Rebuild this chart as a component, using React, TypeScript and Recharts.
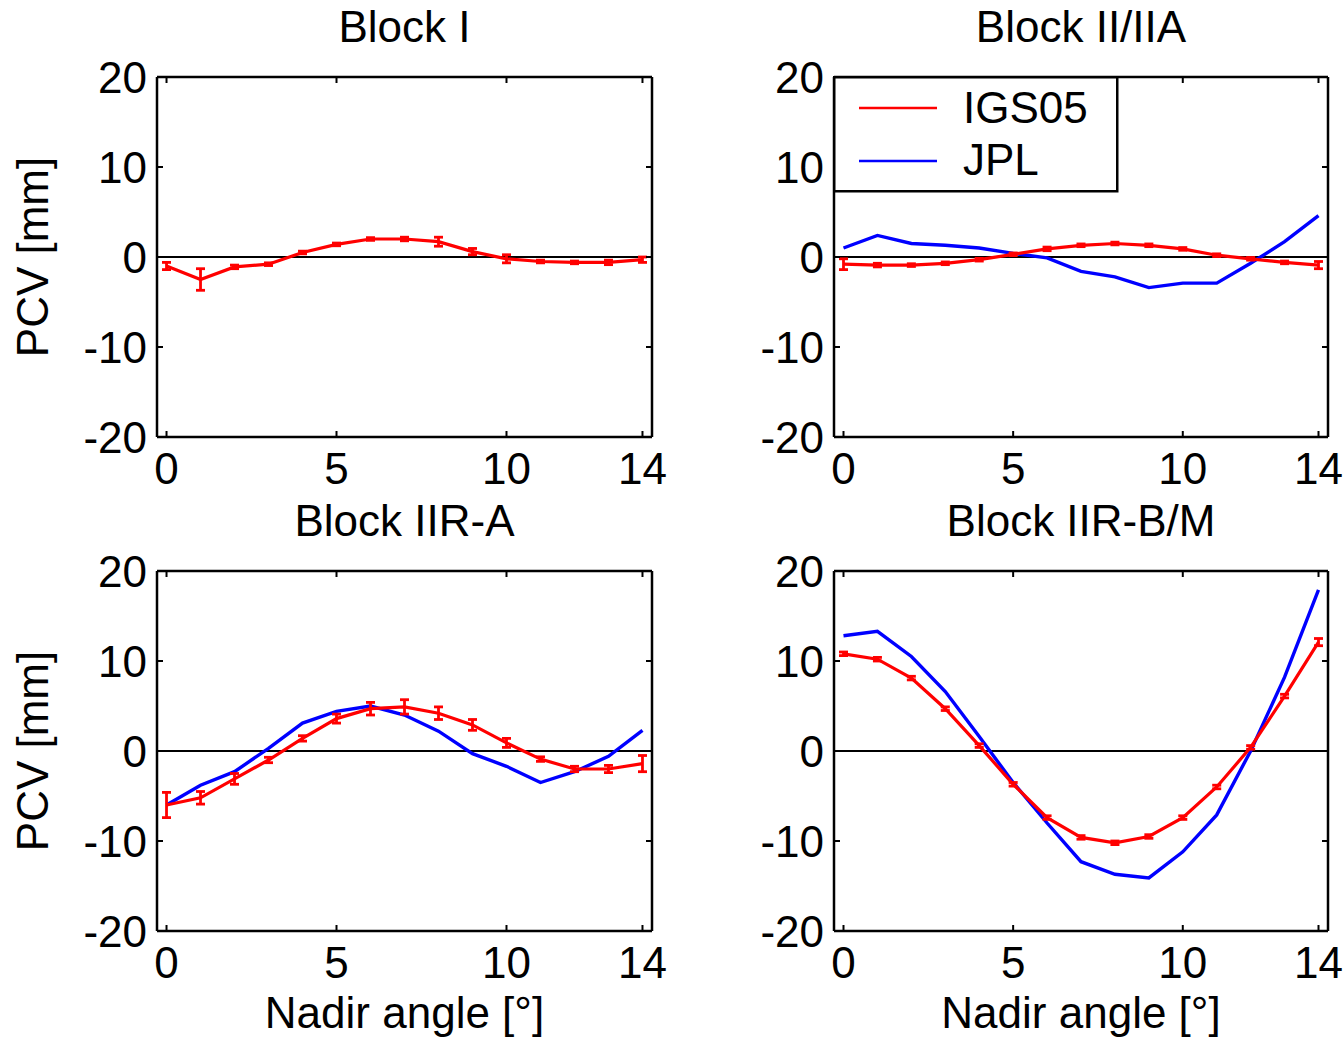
import React from 'react';
import { LineChart, Line, XAxis, YAxis, ReferenceLine, ErrorBar, Legend } from 'recharts';

// nadir angle grid (deg)
const nadirAngles = [0, 1, 2, 3, 4, 5, 6, 7, 8, 9, 10, 11, 12, 13, 14];
const xTicks = [0, 5, 10, 14];
const yTicks = [-20, -10, 0, 10, 20];
const seriesNames = ['IGS05', 'JPL'];
const panelTitles = ['Block I', 'Block II/IIA', 'Block IIR-A', 'Block IIR-B/M'];

// PCV values [mm]
const blockIIgs = [-1.0, -2.5, -1.1, -0.8, 0.5, 1.4, 2.0, 2.0, 1.7, 0.6, -0.2, -0.5, -0.6, -0.6, -0.3];
const blockIErr = [0.4, 1.2, 0.2, 0.15, 0.15, 0.15, 0.15, 0.2, 0.5, 0.35, 0.45, 0.15, 0.15, 0.25, 0.3];

const blockIIIgs = [-0.8, -0.9, -0.9, -0.7, -0.3, 0.3, 0.9, 1.3, 1.5, 1.3, 0.9, 0.2, -0.2, -0.6, -0.9];
const blockIIErr = [0.6, 0.2, 0.15, 0.15, 0.15, 0.15, 0.2, 0.15, 0.15, 0.15, 0.15, 0.15, 0.15, 0.15, 0.4];
const blockIIJpl = [1.0, 2.4, 1.5, 1.3, 1.0, 0.4, -0.1, -1.6, -2.2, -3.4, -2.9, -2.9, -0.7, 1.7, 4.6];

const blockIIRAIgs = [-6.0, -5.2, -3.1, -1.0, 1.4, 3.6, 4.7, 4.9, 4.2, 2.9, 0.9, -0.9, -2.0, -2.0, -1.4];
const blockIIRAErr = [1.4, 0.7, 0.6, 0.3, 0.3, 0.5, 0.7, 0.8, 0.7, 0.6, 0.5, 0.25, 0.3, 0.4, 0.9];
const blockIIRAJpl = [-6.0, -3.8, -2.3, 0.3, 3.1, 4.4, 5.0, 4.0, 2.2, -0.3, -1.7, -3.5, -2.3, -0.6, 2.3];

const blockIIRBIgs = [10.8, 10.2, 8.1, 4.7, 0.6, -3.7, -7.4, -9.6, -10.2, -9.5, -7.4, -4.0, 0.4, 6.1, 12.1];
const blockIIRBErr = [0.2, 0.2, 0.2, 0.2, 0.2, 0.2, 0.2, 0.2, 0.2, 0.2, 0.2, 0.2, 0.2, 0.2, 0.4];
const blockIIRBJpl = [12.8, 13.3, 10.5, 6.6, 1.6, -3.5, -8.0, -12.3, -13.7, -14.1, -11.2, -7.1, 0.0, 8.2, 17.9];

const FONT = '"Liberation Sans", Arial, Helvetica, sans-serif';
const FS = 44;
const RED = '#ff0000';
const BLUE = '#0000ff';

const XTickBottom = (props: any) => {
  const { x, y, payload } = props;
  return (
    <g>
      <line x1={x} y1={y} x2={x} y2={y - 6} stroke="#000" strokeWidth={2} />
      <text x={x} y={y + 47} textAnchor="middle" fontFamily={FONT} fontSize={FS} fill="#000">
        {payload.value}
      </text>
    </g>
  );
};

const XTickTop = (props: any) => {
  const { x, y } = props;
  return <line x1={x} y1={y} x2={x} y2={y + 6} stroke="#000" strokeWidth={2} />;
};

const YTickLeft = (props: any) => {
  const { x, y, payload } = props;
  return (
    <g>
      <line x1={x} y1={y} x2={x + 6} y2={y} stroke="#000" strokeWidth={2} />
      <text x={x - 10} y={y + 16} textAnchor="end" fontFamily={FONT} fontSize={FS} fill="#000">
        {payload.value}
      </text>
    </g>
  );
};

const YTickRight = (props: any) => {
  const { x, y } = props;
  return <line x1={x} y1={y} x2={x - 6} y2={y} stroke="#000" strokeWidth={2} />;
};

const LegendBox = (props: any) => {
  const payload = props.payload || [];
  const items = seriesNames
    .map((n) => payload.find((p: any) => p.value === n))
    .filter(Boolean);
  return (
    <svg width={286} height={117} style={{ display: 'block' }}>
      <rect x={1.25} y={1.25} width={283} height={114} fill="#fff" stroke="#000" strokeWidth={2.5} />
      {items.map((it: any, i: number) => (
        <g key={it.value}>
          <line x1={26} y1={32 + i * 53} x2={104} y2={32 + i * 53} stroke={it.color} strokeWidth={2.5} />
          <text x={130} y={47 + i * 52} fontFamily={FONT} fontSize={FS} fill="#000">
            {it.value}
          </text>
        </g>
      ))}
    </svg>
  );
};

type PanelProps = {
  title: string;
  igs: number[];
  igsErr: number[];
  jpl?: number[];
  left: number;
  top: number;
  width: number;
  height: number;
  plot: { top: number; right: number; bottom: number; left: number };
  yLabel?: boolean;
  xLabel?: boolean;
  legend?: boolean;
};

const Panel = ({ title, igs, igsErr, jpl, left, top, width, height, plot, yLabel, xLabel, legend }: PanelProps) => {
  const data = nadirAngles.map((a, i) => ({
    angle: a,
    IGS05: igs[i],
    err: igsErr[i],
    JPL: jpl ? jpl[i] : undefined,
  }));
  const xDomain = [-0.28, 14.28];
  // axes take 1px each, so the plot box lands on the given insets
  const margin = { top: plot.top - 1, right: plot.right - 1, bottom: plot.bottom - 1, left: plot.left - 1 };

  return (
    <div style={{ position: 'absolute', left, top }}>
      <LineChart width={width} height={height} data={data} margin={margin}>
        <XAxis
          dataKey="angle"
          type="number"
          domain={xDomain}
          allowDataOverflow
          ticks={xTicks}
          interval={0}
          height={1}
          tickSize={0}
          tickMargin={0}
          tick={<XTickBottom />}
          axisLine={{ stroke: '#000', strokeWidth: 2.5 }}
          tickLine={false}
          label={(p: any) => {
            if (!xLabel) return null;
            const vb = p.viewBox;
            return (
              <text x={vb.x + vb.width / 2} y={vb.y + 97} textAnchor="middle" fontFamily={FONT} fontSize={FS} fill="#000">
                Nadir angle [°]
              </text>
            );
          }}
        />
        <XAxis
          xAxisId="top"
          orientation="top"
          dataKey="angle"
          type="number"
          domain={xDomain}
          allowDataOverflow
          ticks={xTicks}
          interval={0}
          height={1}
          tickSize={0}
          tickMargin={0}
          tick={<XTickTop />}
          axisLine={{ stroke: '#000', strokeWidth: 2.5 }}
          tickLine={false}
          label={(p: any) => {
            const vb = p.viewBox;
            return (
              <text x={vb.x + vb.width / 2} y={vb.y + vb.height - 35} textAnchor="middle" fontFamily={FONT} fontSize={FS} fill="#000">
                {title}
              </text>
            );
          }}
        />
        <YAxis
          type="number"
          domain={[-20, 20]}
          allowDataOverflow
          ticks={yTicks}
          interval={0}
          width={1}
          tickSize={0}
          tickMargin={0}
          tick={<YTickLeft />}
          axisLine={{ stroke: '#000', strokeWidth: 2.5 }}
          tickLine={false}
          label={(p: any) => {
            if (!yLabel) return null;
            const vb = p.viewBox;
            const cx = vb.x + vb.width - 109;
            const cy = vb.y + vb.height / 2;
            return (
              <text x={cx} y={cy} transform={`rotate(-90 ${cx} ${cy})`} textAnchor="middle" fontFamily={FONT} fontSize={FS} fill="#000">
                PCV [mm]
              </text>
            );
          }}
        />
        <YAxis
          yAxisId="right"
          orientation="right"
          type="number"
          domain={[-20, 20]}
          allowDataOverflow
          ticks={yTicks}
          interval={0}
          width={1}
          tickSize={0}
          tickMargin={0}
          tick={<YTickRight />}
          axisLine={{ stroke: '#000', strokeWidth: 2.5 }}
          tickLine={false}
        />
        <ReferenceLine y={0} stroke="#000" strokeWidth={2} />
        {jpl && (
          <Line
            type="linear"
            dataKey="JPL"
            name="JPL"
            stroke={BLUE}
            strokeWidth={3.4}
            dot={false}
            activeDot={false}
            isAnimationActive={false}
          />
        )}
        <Line
          type="linear"
          dataKey="IGS05"
          name="IGS05"
          stroke={RED}
          strokeWidth={3.2}
          dot={false}
          activeDot={false}
          isAnimationActive={false}
        >
          <ErrorBar dataKey="err" direction="y" width={4.5} stroke={RED} strokeWidth={2.8} isAnimationActive={false} />
        </Line>
        {legend && (
          <Legend
            layout="horizontal"
            verticalAlign="middle"
            align="center"
            content={<LegendBox />}
            wrapperStyle={{ left: plot.left - 1, top: plot.top - 1, width: 286, height: 117 }}
          />
        )}
      </LineChart>
    </div>
  );
};

export default function App() {
  return (
    <div style={{ position: 'absolute', left: 0, top: 0, width: 1343, height: 1039, background: '#fff', overflow: 'hidden' }}>
      <Panel
        title={panelTitles[0]}
        igs={blockIIgs}
        igsErr={blockIErr}
        left={0}
        top={0}
        width={672}
        height={500}
        plot={{ top: 77, left: 157, right: 20, bottom: 63 }}
        yLabel
      />
      <Panel
        title={panelTitles[1]}
        igs={blockIIIgs}
        igsErr={blockIIErr}
        jpl={blockIIJpl}
        left={672}
        top={0}
        width={671}
        height={500}
        plot={{ top: 77, left: 162, right: 15, bottom: 63 }}
        legend
      />
      <Panel
        title={panelTitles[2]}
        igs={blockIIRAIgs}
        igsErr={blockIIRAErr}
        jpl={blockIIRAJpl}
        left={0}
        top={460}
        width={672}
        height={579}
        plot={{ top: 111, left: 157, right: 20, bottom: 108 }}
        yLabel
        xLabel
      />
      <Panel
        title={panelTitles[3]}
        igs={blockIIRBIgs}
        igsErr={blockIIRBErr}
        jpl={blockIIRBJpl}
        left={672}
        top={460}
        width={671}
        height={579}
        plot={{ top: 111, left: 162, right: 15, bottom: 108 }}
        xLabel
      />
    </div>
  );
}
